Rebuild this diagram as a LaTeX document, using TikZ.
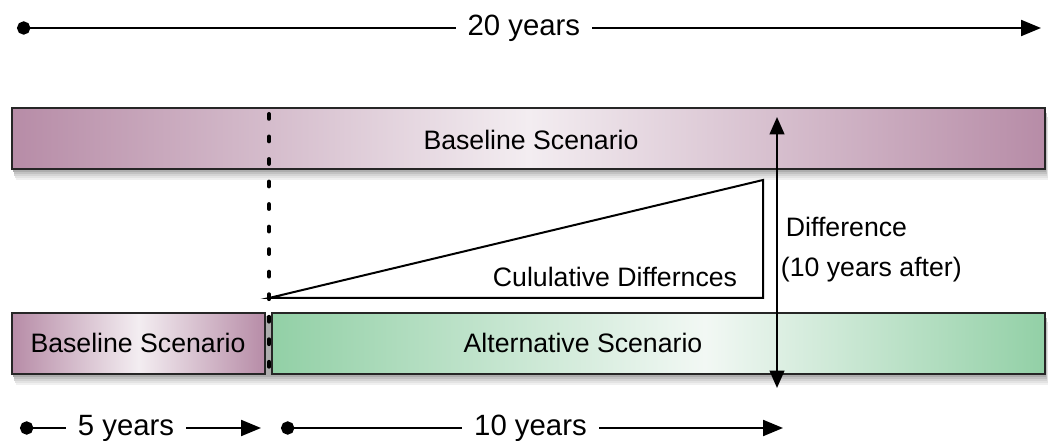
\documentclass[tikz,border=0pt]{standalone}
\usepackage{fontspec}
\setmainfont{Liberation Sans}
\usepackage{xcolor}
\definecolor{lila}{RGB}{183,140,167}
\definecolor{lilahell}{RGB}{243,237,241}
\definecolor{gruen}{RGB}{146,208,166}
\definecolor{gruenhell}{RGB}{242,248,244}
\usepackage{tikz}
\usetikzlibrary{arrows.meta}
\pgfdeclarehorizontalshading{gruenverlauf}{100bp}{color(0bp)=(gruen); color(25bp)=(gruen); color(53bp)=(gruenhell); color(75bp)=(gruen); color(100bp)=(gruen)}
\newcommand{\Schatten}[1]{%
\foreach \s/\g in {11/6,9/11,7/17,5/24,3/32} {\fill[black!\g,shift={(\s/3,\s)}] #1;}}

\begin{document}
\begin{tikzpicture}[x=0.75pt,y=-0.75pt,line cap=round]
	\tikzstyle{balken}=[draw=black!85,line width=2pt];
	\tikzstyle{lilabalken}=[balken,left color=lila,right color=lila,middle color=lilahell];
	\tikzstyle{gruenbalken}=[balken,shade,shading=gruenverlauf];
	\tikzstyle{schrift}=[font=\fontsize{20}{24}\selectfont,inner sep=2pt];
	\tikzstyle{zeitschrift}=[font=\fontsize{22}{26}\selectfont,fill=white,inner xsep=9pt,inner ysep=0pt];
	\tikzstyle{zeit}=[line width=1.6pt,arrows={Circle[length=10pt]-Triangle[length=15pt,width=12pt]}];
	\tikzstyle{marke}=[line width=3pt,dash pattern=on 3.6pt off 13.3pt];
%<--------------------------------------------------------------------------->%

	\useasboundingbox (0,0) rectangle (1048,441);
	\coordinate (T0) at (17,28);
	\coordinate (T1) at (1041,28);
	\coordinate (F0) at (20,428);
	\coordinate (F1) at (261,428);
	\coordinate (Z0) at (281,428);
	\coordinate (Z1) at (783,428);
	\coordinate (M0) at (269,114);
	\coordinate (M1) at (269,372);
	\coordinate (D0) at (777,117);
	\coordinate (D1) at (777,388);
	\coordinate (K0) at (269,298);
	\coordinate (K1) at (763,180);
	\coordinate (K2) at (763,298);
	%% Shadows
	\Schatten{(12,108) rectangle (1045,169)}
	\Schatten{(12,313) rectangle (1045,374)}
	\Schatten{(K0) -- (K1) -- (K2) -- cycle}
	%% Bars
	\path[lilabalken] (12,108) rectangle (1045,169);
	\path[lilabalken] (12,313) rectangle (265,374);
	\path[gruenbalken] (272,313) rectangle (1045,374);
	\filldraw[fill=white,line width=1.5pt] (K0) -- (K1) -- (K2) -- cycle;
	%% Marks
	\draw[marke] (M0) -- (M1);
	\draw[line width=1.6pt,arrows={Triangle[length=13pt,width=11pt]-Triangle[length=13pt,width=11pt]}] (D0) -- (D1);
	%% Time lines
	\draw[zeit] (T0) -- node[zeitschrift,pos=0.495] (zwanzig) {20 years} (T1);
	\draw[zeit] (F0) -- node[zeitschrift,pos=0.44] (fuenf) {5 years} (F1);
	\draw[zeit] (Z0) -- node[zeitschrift,pos=0.497] (zehn) {10 years} (Z1);
	%% Labels
	\node[schrift] (basisoben) at (531,140) {Baseline Scenario};
	\node[schrift] (basisunten) at (138,343) {Baseline Scenario};
	\node[schrift] (alternativ) at (583,343) {Alternative Scenario};
	\node[schrift] (kumuliert) at (615,277) {Cululative Differnces};
	\node[schrift,anchor=west] (differenz) at (783,227) {Difference};
	\node[schrift,anchor=west] (zehnjahre) at (778,270) {(10 years after)};
\end{tikzpicture}
\end{document}
